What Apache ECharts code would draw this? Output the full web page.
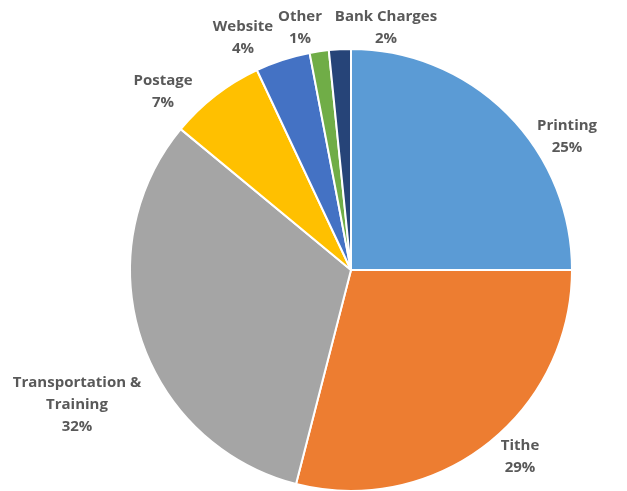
<!DOCTYPE html>
<html>
<head>
<meta charset="utf-8">
<script src="https://cdn.jsdelivr.net/npm/echarts@6/dist/echarts.min.js"></script>
<style>
  html, body { margin: 0; padding: 0; background: #fff; }
  #chart { width: 627px; height: 491px; }
</style>
</head>
<body>
<div id="chart"></div>
<script>
// slices, clockwise from 12 o'clock
var categories = ['Printing', 'Tithe', 'Transportation & Training', 'Postage', 'Website', 'Other', 'Bank Charges'];
var values = [25, 29, 32, 7, 4, 1.4, 1.6];
var colors = ['#5b9bd5', '#ed7d31', '#a5a5a5', '#ffc000', '#4472c4', '#70ad47', '#264478'];
// where each data label sits (centre of text block), like the Excel original
var labelSpots = [[567, 137], [520, 457], [77, 405], [163, 92], [243, 38], [300, 28], [386, 28]];

var chart = echarts.init(document.getElementById('chart'));

var seriesData = categories.map(function (c, i) {
  return { name: c, value: values[i], itemStyle: { color: colors[i] } };
});

chart.setOption({
  animation: false,
  series: [
    {
      type: 'pie',
      center: [351, 270],
      radius: 221,
      startAngle: 90,
      percentPrecision: 0,
      data: seriesData,
      itemStyle: {
        borderColor: '#ffffff',
        borderWidth: 2
      },
      label: {
        show: true,
        position: 'outside',
        overflow: 'none',
        formatter: function (p) {
          var n = p.name === 'Transportation & Training' ? 'Transportation &\nTraining' : p.name;
          return n + '\n' + p.percent + '%';
        },
        color: '#595959',
        fontFamily: 'Open Sans',
        fontWeight: 'bold',
        fontSize: 15,
        lineHeight: 22,
        align: 'center'
      },
      labelLine: { show: false },
      labelLayout: function (p) {
        var s = labelSpots[p.dataIndex];
        return { x: s[0], y: s[1], align: 'center', verticalAlign: 'middle', hideOverlap: false, moveOverlap: null };
      }
    }
  ]
});
</script>
</body>
</html>
